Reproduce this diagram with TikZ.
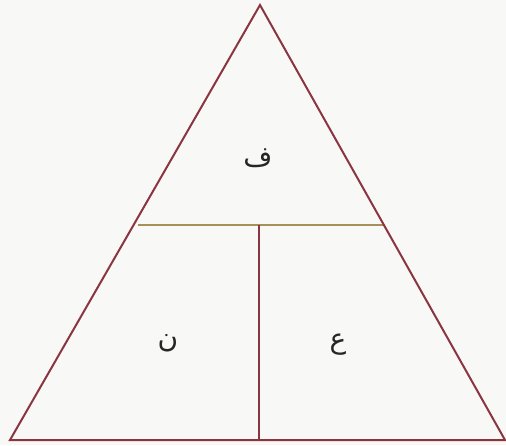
\documentclass[tikz,border=0pt]{standalone}
\usepackage{fontspec}
\newfontfamily\arabicfont[Script=Arabic]{DejaVu Sans}
\TeXXeTstate=1
\definecolor{edgecol}{HTML}{8A3540}
\definecolor{midcol}{HTML}{A8905A}
\definecolor{bgcol}{HTML}{F8F8F6}
\begin{document}
\begin{tikzpicture}[x=1pt,y=-1pt,
  edge/.style={draw=edgecol,line width=2pt,line join=miter},
  midline/.style={draw=midcol,line width=2pt},
  letter/.style={font=\arabicfont\fontsize{28}{32}\selectfont,inner sep=0pt,text=black!85}]
\fill[bgcol] (0,0) rectangle (506,445);
\useasboundingbox (0,0) rectangle (506,445);
\coordinate (apex) at (260,5);
\coordinate (bl) at (10,440);
\coordinate (br) at (505,440);
\coordinate (hl) at (138,225);
\coordinate (hr) at (384,225);
\coordinate (vt) at (259,225);
\coordinate (vb) at (259,440);
\draw[midline] (hl) -- (hr);
\draw[edge] (vt) -- (vb);
\draw[edge] (apex) -- (bl) -- (br) -- cycle;
\node[letter] (f) at (258,158) {\beginR ف\endR};
\node[letter] (n) at (168,343) {\beginR ن\endR};
\node[letter] (a) at (338,345) {\beginR ع\endR};
\end{tikzpicture}
\end{document}
